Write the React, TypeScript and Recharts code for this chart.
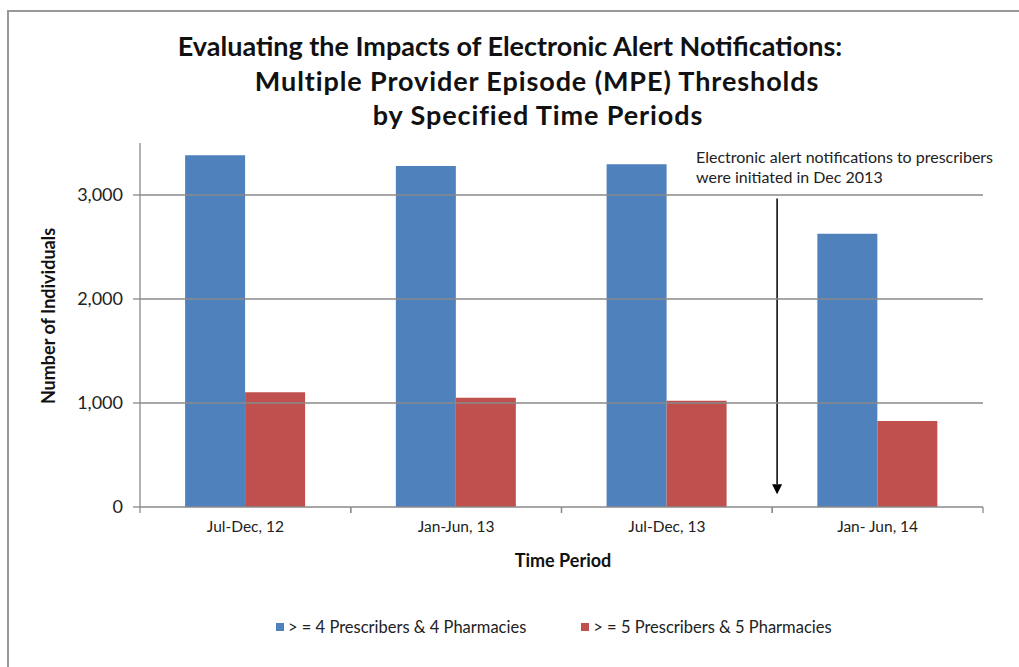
import React from 'react';
import { BarChart, Bar, XAxis, YAxis, ReferenceLine, ReferenceArea } from 'recharts';

const categories = ['Jul-Dec, 12', 'Jan-Jun, 13', 'Jul-Dec, 13', 'Jan- Jun, 14'];
const series4 = [3382, 3279, 3295, 2627];
const series5 = [1103, 1051, 1022, 826];
const seriesNames = ['> = 4 Prescribers & 4 Pharmacies', '> = 5 Prescribers & 5 Pharmacies'];
const yTicks = [0, 1000, 2000, 3000];
const gridValues = [1000, 2000, 3000];
const titleLines = [
  'Evaluating the Impacts of Electronic Alert Notifications:',
  'Multiple Provider Episode (MPE) Thresholds',
  'by Specified Time Periods',
];
const annotationLines = ['Electronic alert notifications to prescribers', 'were initiated in Dec 2013'];
// arrow sits just after the end of the "Jul-Dec, 13" category band
const arrowCategory = 'Jul-Dec, 13';
const arrowBandFraction = 1.023;
const arrowFrom = 2967;
const arrowTo = 122;

const data = categories.map((c, i) => ({ period: c, s4: series4[i], s5: series5[i] }));

const FONT = 'Lato, "Open Sans", sans-serif';
const GRID = '#8a8a8a';
const BLUE = '#4F81BD';
const RED = '#C0504D';
const colors = [BLUE, RED];

const ArrowShape = (props: any) => {
  const { x, y, width, height } = props;
  if (x == null || y == null) return null;
  const cx = x + width * arrowBandFraction;
  const top = y;
  const tip = y + height;
  const head = 10;
  return (
    <g>
      <line x1={cx} y1={top} x2={cx} y2={tip - head} stroke="#000" strokeWidth={1.5} />
      <polygon points={`${cx - 5},${tip - head} ${cx + 5},${tip - head} ${cx},${tip}`} fill="#000" />
    </g>
  );
};

const BandTickShape = (props: any) => {
  const { x, y, width, height } = props;
  if (x == null || y == null) return null;
  const yb = y + height;
  return (
    <g>
      <line x1={x} x2={x} y1={yb} y2={yb + 6} stroke={GRID} strokeWidth={1.3} />
      <line x1={x + width} x2={x + width} y1={yb} y2={yb + 6} stroke={GRID} strokeWidth={1.3} />
    </g>
  );
};

export default function App() {
  const titleX = [510, 537, 538];
  const titleY = [45, 80, 114];
  const titleLs = [0, 0.9, 0.9];
  return (
    <div style={{ position: 'absolute', left: 0, top: 0, width: 1019, height: 667, background: '#fff', overflow: 'hidden' }}>
      <div style={{ position: 'absolute', left: 7, top: 10, width: 1030, height: 680, borderTop: '2px solid #999', borderLeft: '2px solid #999' }} />
      <BarChart
        width={1019}
        height={667}
        data={data}
        margin={{ top: 143, left: 80, right: 36, bottom: 120 }}
        barCategoryGap="21.4%"
        barGap={0}
        style={{ position: 'absolute', left: 0, top: 0 }}
      >
        {gridValues.map((v) => (
          <ReferenceLine key={v} y={v} stroke={GRID} strokeWidth={1.3} />
        ))}
        <XAxis
          dataKey="period"
          height={40}
          tickLine={false}
          axisLine={{ stroke: GRID, strokeWidth: 1.3 }}
          tickSize={0}
          tickMargin={14}
          tick={{ fontFamily: FONT, fontSize: 15.5, fill: '#222' }}
          interval={0}
        />
        <YAxis
          width={60}
          domain={[0, 3500]}
          ticks={yTicks}
          allowDataOverflow
          axisLine={{ stroke: GRID, strokeWidth: 1.3 }}
          tickLine={{ stroke: GRID, strokeWidth: 1.3 }}
          tickSize={7}
          tickMargin={10}
          tick={{ fontFamily: FONT, fontSize: 18, fill: '#222' }}
          tickFormatter={(v: number) => v.toLocaleString('en-US')}
        />
        <Bar dataKey="s4" name={seriesNames[0]} fill={BLUE} isAnimationActive={false} />
        <Bar dataKey="s5" name={seriesNames[1]} fill={RED} isAnimationActive={false} />
        {categories.map((c) => (
          <ReferenceArea key={`b${c}`} x1={c} x2={c} y1={0} y2={3500} shape={BandTickShape} ifOverflow="visible" />
        ))}
        <ReferenceArea
          x1={arrowCategory}
          x2={arrowCategory}
          y1={arrowTo}
          y2={arrowFrom}
          shape={ArrowShape}
          ifOverflow="visible"
        />
      </BarChart>
      <div
        style={{
          position: 'absolute',
          left: 276,
          top: 627,
          transform: 'translateY(-50%)',
          display: 'flex',
          gap: 55,
          fontFamily: FONT,
          fontSize: 16.5,
          color: '#222',
          whiteSpace: 'nowrap',
        }}
      >
        {seriesNames.map((n, i) => (
          <div key={n} style={{ display: 'flex', alignItems: 'center' }}>
            <span style={{ display: 'inline-block', width: 8, height: 8, background: colors[i], marginRight: 4 }} />
            <span>{n}</span>
          </div>
        ))}
      </div>
      {titleLines.map((t, i) => (
        <div
          key={t}
          style={{
            position: 'absolute',
            left: titleX[i],
            top: titleY[i],
            transform: 'translate(-50%, -50%)',
            whiteSpace: 'nowrap',
            fontFamily: FONT,
            fontWeight: 700,
            fontSize: 27,
            letterSpacing: titleLs[i],
            color: '#111',
          }}
        >
          {t}
        </div>
      ))}
      {annotationLines.map((t, i) => (
        <div
          key={t}
          style={{
            position: 'absolute',
            left: 696,
            top: 156 + i * 20,
            transform: 'translateY(-50%)',
            whiteSpace: 'nowrap',
            fontFamily: FONT,
            fontSize: 16,
            color: '#222',
          }}
        >
          {t}
        </div>
      ))}
      <div
        style={{
          position: 'absolute',
          left: 48,
          top: 316,
          transform: 'translate(-50%, -50%) rotate(-90deg)',
          whiteSpace: 'nowrap',
          fontFamily: FONT,
          fontWeight: 700,
          fontSize: 18,
          color: '#111',
        }}
      >
        Number of Individuals
      </div>
      <div
        style={{
          position: 'absolute',
          left: 563,
          top: 560,
          transform: 'translate(-50%, -50%)',
          whiteSpace: 'nowrap',
          fontFamily: FONT,
          fontWeight: 700,
          fontSize: 18,
          color: '#111',
        }}
      >
        Time Period
      </div>
    </div>
  );
}
